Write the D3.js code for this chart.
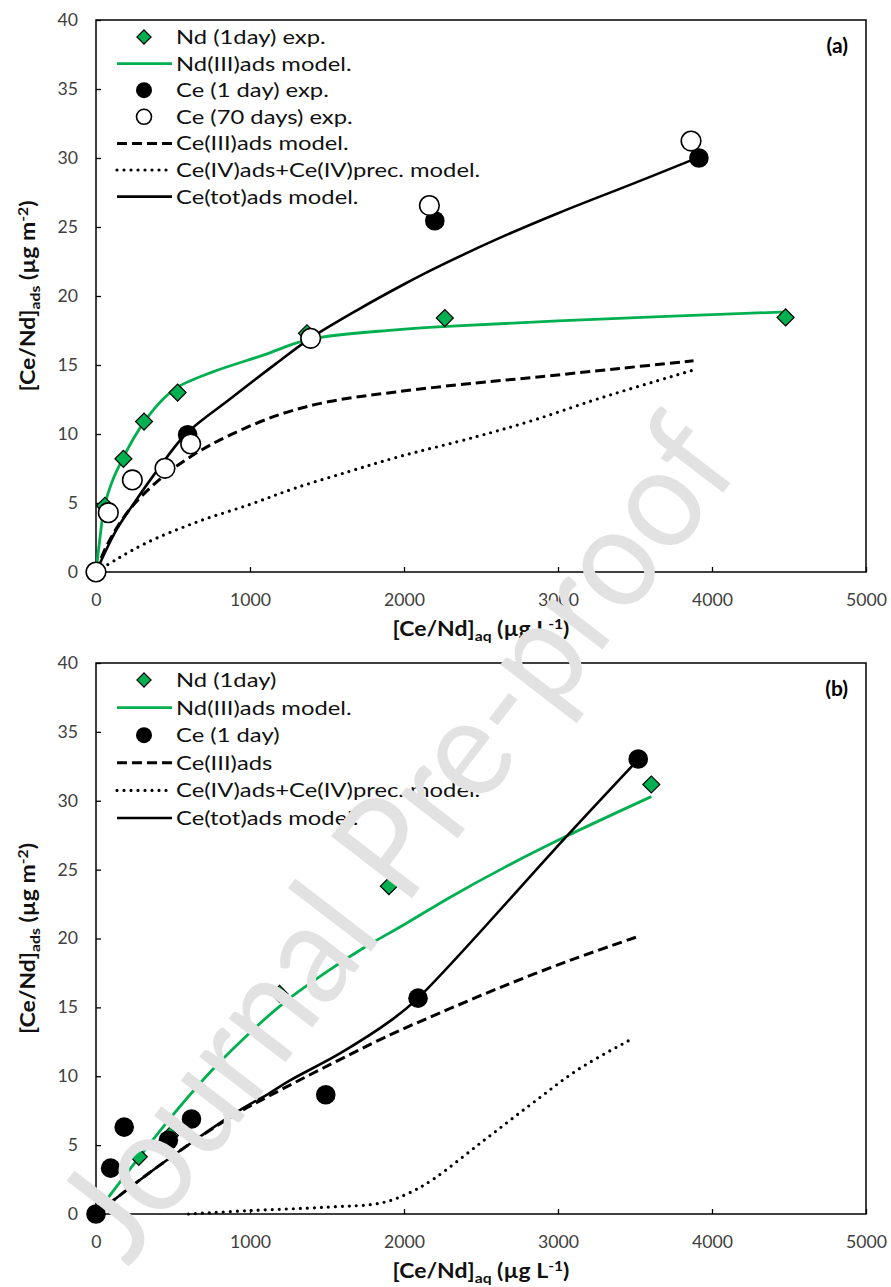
<!DOCTYPE html>
<html>
<head>
<meta charset="utf-8">
<script src="https://cdn.jsdelivr.net/npm/d3@7"></script>
<style>
  body { margin: 0; background: #fff; }
  svg { display: block; }
  text { font-family: Lato, "Open Sans", sans-serif; }
</style>
</head>
<body>
<svg id="chart" width="891" height="1287"></svg>
<script>
//  axis ticks
var xTicks = [0, 1000, 2000, 3000, 4000, 5000];
var yTicks = [0, 5, 10, 15, 20, 25, 30, 35, 40];

//  panel (a) experiments
var ndExpA = [[0, 0], [58, 4.8], [178, 8.2], [312, 10.9], [530, 13.0], [1370, 17.3], [2265, 18.4], [4478, 18.45]];
var ceDay1A = [[0, 0], [595, 9.95], [1394, 16.9], [2200, 25.45], [3915, 30.0]];
var ceDay70A = [[0, 0], [80, 4.3], [236, 6.67], [448, 7.51], [615, 9.28], [1394, 16.93], [2165, 26.55], [3864, 31.23]];

//  panel (a) models
var ndModelA = [[0, 0], [22, 2.1], [54, 4.7], [110, 6.7], [173, 8.2], [240, 9.6], [314, 10.9], [433, 12.5], [530, 13.4],
    [758, 14.5], [1082, 15.7], [1385, 16.85], [1948, 17.55], [2280, 17.8], [3000, 18.2], [4480, 18.85]];
var ce3ModelA = [[0, 0], [65, 1.8], [216, 4.5], [433, 6.9], [649, 8.6], [866, 9.9], [1190, 11.4], [1515, 12.35],
    [1948, 13.05], [2468, 13.7], [2840, 14.1], [3400, 14.75], [3880, 15.3]];
var ce4ModelA = [[0, 0], [130, 0.9], [325, 2.1], [649, 3.6], [1000, 4.9], [1299, 6.1], [1648, 7.3], [1948, 8.3],
    [2468, 9.8], [2840, 11.0], [3273, 12.6], [3900, 14.7]];
var ceTotModelA = [[0, 0], [130, 3.0], [260, 5.2], [400, 7.4], [584, 10.0], [866, 12.5], [1169, 15.1], [1394, 16.95],
    [1700, 19.0], [2000, 20.85], [2200, 22.0], [2600, 24.1], [3000, 26.0], [3500, 28.2], [3880, 29.9]];

//  panel (b) experiments
var ndExpB = [[0, 0], [278, 4.15], [480, 5.7], [1192, 15.98], [1902, 23.8], [3606, 31.18]];
var ceDay1B = [[0, 0], [95, 3.33], [183, 6.31], [470, 5.35], [620, 6.9], [1492, 8.66], [2091, 15.67], [3521, 33.03]];

//  panel (b) models
var ndModelB = [[0, 0], [100, 1.5], [286, 4.2], [500, 7.2], [750, 10.4], [1022, 13.4], [1250, 15.6], [1500, 17.6],
    [1750, 19.4], [2000, 21.0], [2300, 23.0], [2659, 25.2], [3050, 27.4], [3606, 30.3]];
var ce3ModelB = [[0, 0], [300, 2.6], [610, 5.1], [900, 7.2], [1130, 8.6], [1476, 10.6], [1909, 13.0], [2234, 14.6],
    [2659, 16.6], [3100, 18.5], [3521, 20.15]];
var ce4ModelB = [[600, 0], [1000, 0.25], [1500, 0.5], [1850, 0.8], [2028, 1.5], [2186, 2.5], [2502, 5.2],
    [2817, 7.9], [3132, 10.5], [3495, 12.8]];
var ceTotModelB = [[0, 0], [300, 2.6], [610, 5.1], [900, 7.3], [1130, 8.8], [1260, 9.7], [1584, 11.66], [1909, 14.0],
    [2091, 15.67], [3054, 27.4], [3521, 33.0]];

//  legend labels
var legendA = ["Nd (1day) exp.", "Nd(III)ads model.", "Ce (1 day) exp.", "Ce (70 days) exp.",
    "Ce(III)ads model.", "Ce(IV)ads+Ce(IV)prec. model.", "Ce(tot)ads model."];
var legendB = ["Nd (1day)", "Nd(III)ads model.", "Ce (1 day)", "Ce(III)ads",
    "Ce(IV)ads+Ce(IV)prec. model.", "Ce(tot)ads model."];

var GREEN = "#00b050";

var lineStyle = {
    nd:  { stroke: GREEN, width: 2.8, dash: null, cap: "butt" },
    ce3: { stroke: "#000", width: 3, dash: "10,5", cap: "butt" },
    ce4: { stroke: "#000", width: 3.2, dash: "0,7", cap: "round" },
    tot: { stroke: "#000", width: 2.6, dash: null, cap: "butt" }
};

var svg = d3.select("#chart");

var x = d3.scaleLinear().domain([0, 5000]).range([96, 866]);

//  stretch text horizontally (source font is wider than ours)
function stretch(sel, k) {
    sel.each(function() {
        var t = d3.select(this);
        var tx = +t.attr("x") || 0, ty = +t.attr("y") || 0;
        t.attr("x", null).attr("y", null)
            .attr("transform", "translate(" + tx + "," + ty + ") scale(" + k + ",1)");
    });
}

function styleLine(sel, s) {
    sel.attr("fill", "none")
        .attr("stroke", s.stroke)
        .attr("stroke-width", s.width)
        .attr("stroke-linecap", s.cap)
        .attr("stroke-dasharray", s.dash);
}

function diamond(sel, area) {
    sel.attr("d", d3.symbol(d3.symbolSquare, area))
        .attr("fill", GREEN)
        .attr("stroke", "#000")
        .attr("stroke-width", 1.2);
}

function drawPanel(p) {
    var y = d3.scaleLinear().domain([0, 40]).range([p.bottom, p.top]);
    var g = svg.append("g");

    var line = d3.line()
        .x(function(d) { return x(d[0]); })
        .y(function(d) { return y(d[1]); })
        .curve(d3.curveCatmullRom.alpha(0.5));

    //  axes
    var ax = g.append("g")
        .attr("transform", "translate(0," + p.bottom + ")")
        .call(d3.axisBottom(x).tickValues(xTicks).tickFormat(d3.format("d"))
            .tickSize(-5).tickSizeOuter(0).tickPadding(22));
    var ay = g.append("g")
        .attr("transform", "translate(96,0)")
        .call(d3.axisLeft(y).tickValues(yTicks).tickFormat(d3.format("d"))
            .tickSize(-5).tickSizeOuter(0).tickPadding(18));
    [ax, ay].forEach(function(a) {
        a.select(".domain").remove();
        a.selectAll(".tick line").attr("stroke", "#000").attr("stroke-width", 1.3);
        a.selectAll("text").attr("fill", "#404040").style("font-size", "17px").style("font-family", "Lato");
        stretch(a.selectAll("text"), 1.04);
    });

    g.append("rect")
        .attr("x", 96).attr("y", p.top)
        .attr("width", 770).attr("height", p.bottom - p.top)
        .attr("fill", "none").attr("stroke", "#000").attr("stroke-width", 1.5);

    //  model curves
    p.models.forEach(function(m) {
        g.append("path").datum(m.data).attr("d", line).call(styleLine, lineStyle[m.style]);
    });

    //  experimental points
    g.selectAll(null).data(p.nd).enter().append("path")
        .attr("transform", function(d) { return "translate(" + x(d[0]) + "," + y(d[1]) + ") rotate(45)"; })
        .call(diamond, 144);
    g.selectAll(null).data(p.ce1).enter().append("circle")
        .attr("cx", function(d) { return x(d[0]); })
        .attr("cy", function(d) { return y(d[1]); })
        .attr("r", 9.8).attr("fill", "#000");
    if (p.ce70) {
        g.selectAll(null).data(p.ce70).enter().append("circle")
            .attr("cx", function(d) { return x(d[0]); })
            .attr("cy", function(d) { return y(d[1]); })
            .attr("r", 9.8).attr("fill", "#fff").attr("stroke", "#000").attr("stroke-width", 1.6);
    }

    //  legend
    var lg = g.append("g");
    p.legend.forEach(function(label, i) {
        var ly = p.top + 17 + i * p.legendStep;
        var kind = p.legendKinds[i];
        if (kind === "diamond") {
            lg.append("path").attr("transform", "translate(144," + ly + ") rotate(45)").call(diamond, 100);
        } else if (kind === "circle") {
            lg.append("circle").attr("cx", 144).attr("cy", ly).attr("r", 8).attr("fill", "#000");
        } else if (kind === "open") {
            lg.append("circle").attr("cx", 144).attr("cy", ly).attr("r", 7.5)
                .attr("fill", "#fff").attr("stroke", "#000").attr("stroke-width", 1.6);
        } else {
            lg.append("line").attr("x1", 117).attr("x2", 172).attr("y1", ly).attr("y2", ly)
                .call(styleLine, lineStyle[kind]);
        }
        lg.append("text").attr("x", 176).attr("y", ly + 7)
            .style("font-size", "19.5px").attr("fill", "#111").text(label);
    });
    stretch(lg.selectAll("text"), 1.22);

    //  panel tag
    g.append("text").attr("x", 848).attr("y", p.top + 33)
        .attr("text-anchor", "end").style("font-size", "21px").style("font-weight", "bold")
        .text(p.tag);

    //  axis titles
    var xt = g.append("text").attr("x", 481).attr("y", p.bottom + 64)
        .attr("text-anchor", "middle").style("font-size", "20.5px").style("font-weight", "bold").attr("fill", "#111");
    xt.append("tspan").text("[Ce/Nd]");
    xt.append("tspan").attr("dy", 5).style("font-size", "14px").text("aq");
    xt.append("tspan").attr("dy", -5).text(" (\u00b5g L");
    xt.append("tspan").attr("dy", -7).style("font-size", "14px").text("-1");
    xt.append("tspan").attr("dy", 7).text(")");
    stretch(xt, 1.12);

    var yt = g.append("text")
        .attr("text-anchor", "middle").style("font-size", "20.5px").style("font-weight", "bold").attr("fill", "#111")
        .attr("transform", "translate(35," + ((p.top + p.bottom) / 2) + ") rotate(-90) scale(1.12,1)");
    yt.append("tspan").text("[Ce/Nd]");
    yt.append("tspan").attr("dy", 5).style("font-size", "14px").text("ads");
    yt.append("tspan").attr("dy", -5).text(" (\u00b5g m");
    yt.append("tspan").attr("dy", -7).style("font-size", "14px").text("-2");
    yt.append("tspan").attr("dy", 7).text(")");
}

drawPanel({
    top: 20, bottom: 572, tag: "(a)", legendStep: 26.6,
    models: [
        { data: ce4ModelA, style: "ce4" },
        { data: ce3ModelA, style: "ce3" },
        { data: ndModelA, style: "nd" },
        { data: ceTotModelA, style: "tot" }
    ],
    nd: ndExpA, ce1: ceDay1A, ce70: ceDay70A,
    legend: legendA,
    legendKinds: ["diamond", "nd", "circle", "open", "ce3", "ce4", "tot"]
});

drawPanel({
    top: 663, bottom: 1214, tag: "(b)", legendStep: 27.6,
    models: [
        { data: ce4ModelB, style: "ce4" },
        { data: ce3ModelB, style: "ce3" },
        { data: ndModelB, style: "nd" },
        { data: ceTotModelB, style: "tot" }
    ],
    nd: ndExpB, ce1: ceDay1B, ce70: null,
    legend: legendB,
    legendKinds: ["diamond", "nd", "circle", "ce3", "ce4", "tot"]
});

//  watermark over everything
svg.append("text")
    .attr("transform", "translate(128,1268) rotate(-52.5)")
    .attr("textLength", 1010).attr("lengthAdjust", "spacingAndGlyphs")
    .style("font-size", "142px").attr("fill", "#e2e2e2")
    .text("Journal Pre-proof");
</script>
</body>
</html>
